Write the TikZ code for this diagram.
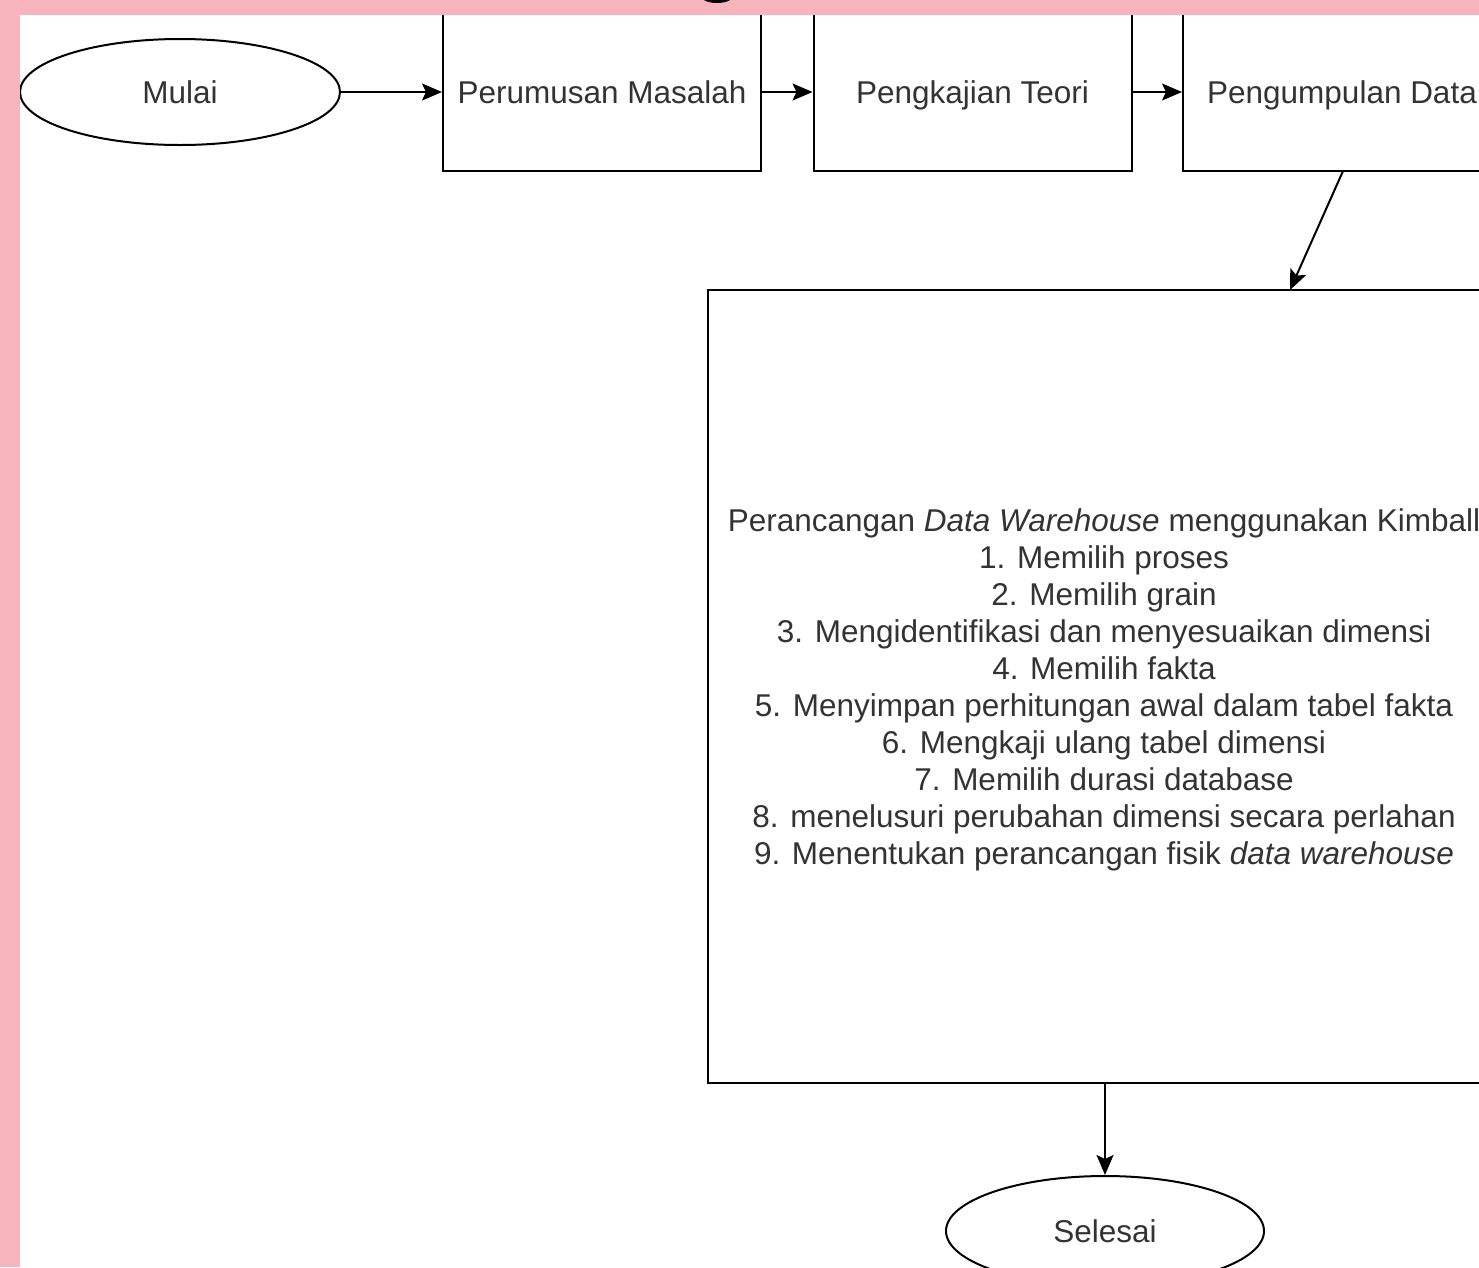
\documentclass[tikz,border=0pt]{standalone}
\usepackage{fontspec}
\setmainfont{Liberation Sans}
\usetikzlibrary{shapes.geometric,arrows.meta}
\definecolor{pinkbg}{HTML}{F7B4BD}
\definecolor{txt}{HTML}{333333}
\tikzset{
  x=1pt,y=-1pt,
  basefont/.style={text=txt,font=\fontsize{31.5}{37}\selectfont},
  stepbox/.style={basefont,draw=black,line width=2pt,minimum width=318pt,minimum height=158pt,inner sep=0pt,text height=22pt,text depth=0pt},
  termnode/.style={basefont,draw=black,line width=2pt,ellipse,minimum width=320pt,minimum height=106pt,inner sep=0pt,text height=22pt,text depth=0pt},
  bigbox/.style={basefont,draw=black,line width=2pt,minimum width=792pt,minimum height=793pt,inner sep=0pt,align=center},
  conn/.style={draw=black,line width=2pt,-{Stealth[length=20pt,width=17pt,inset=4pt]}}
}
\begin{document}
\begin{tikzpicture}
\useasboundingbox (0,0) rectangle (1479,1267);
\begin{scope}
\clip (0,0) rectangle (1479,1267);
\fill[white] (0,0) rectangle (1479,1267);
\node[termnode] (mulai) at (180,92) {Mulai};
\node[stepbox] (rumus) at (602,92) {Perumusan Masalah};
\node[stepbox] (kaji) at (972.5,92) {Pengkajian Teori};
\node[stepbox] (kumpul) at (1342,92) {Pengumpulan Data};
\node[bigbox] (rancang) at (1104,686.5) {};
\node[basefont,align=center] (rancangtxt) at (1104,690) {Perancangan \textit{Data Warehouse} menggunakan Kimball\\
1. Memilih proses\\
2. Memilih grain\\
3. Mengidentifikasi dan menyesuaikan dimensi\\
4. Memilih fakta\\
5. Menyimpan perhitungan awal dalam tabel fakta\\
6. Mengkaji ulang tabel dimensi\\
7. Memilih durasi database\\
8. menelusuri perubahan dimensi secara perlahan\\
9. Menentukan perancangan fisik \textit{data warehouse}};
\node[termnode,minimum width=318pt,minimum height=110pt] (selesai) at (1105,1231) {Selesai};
\coordinate (kumpulout) at (1343,171);
\coordinate (rancangin) at (1290,290);
\draw[conn] (mulai.east) -- (rumus.west);
\draw[conn] (rumus.east) -- (kaji.west);
\draw[conn] (kaji.east) -- (kumpul.west);
\draw[conn] (kumpulout) -- (rancangin);
\draw[conn] (rancang.south -| selesai.north) -- (selesai.north);
% pink frame
\fill[pinkbg] (0,0) rectangle (1479,15);
\fill[pinkbg] (0,0) rectangle (20,1267);
\fill[black] (704,0) .. controls (710,4) and (724,4) .. (730,0) -- cycle;
\end{scope}
\end{tikzpicture}
\end{document}
